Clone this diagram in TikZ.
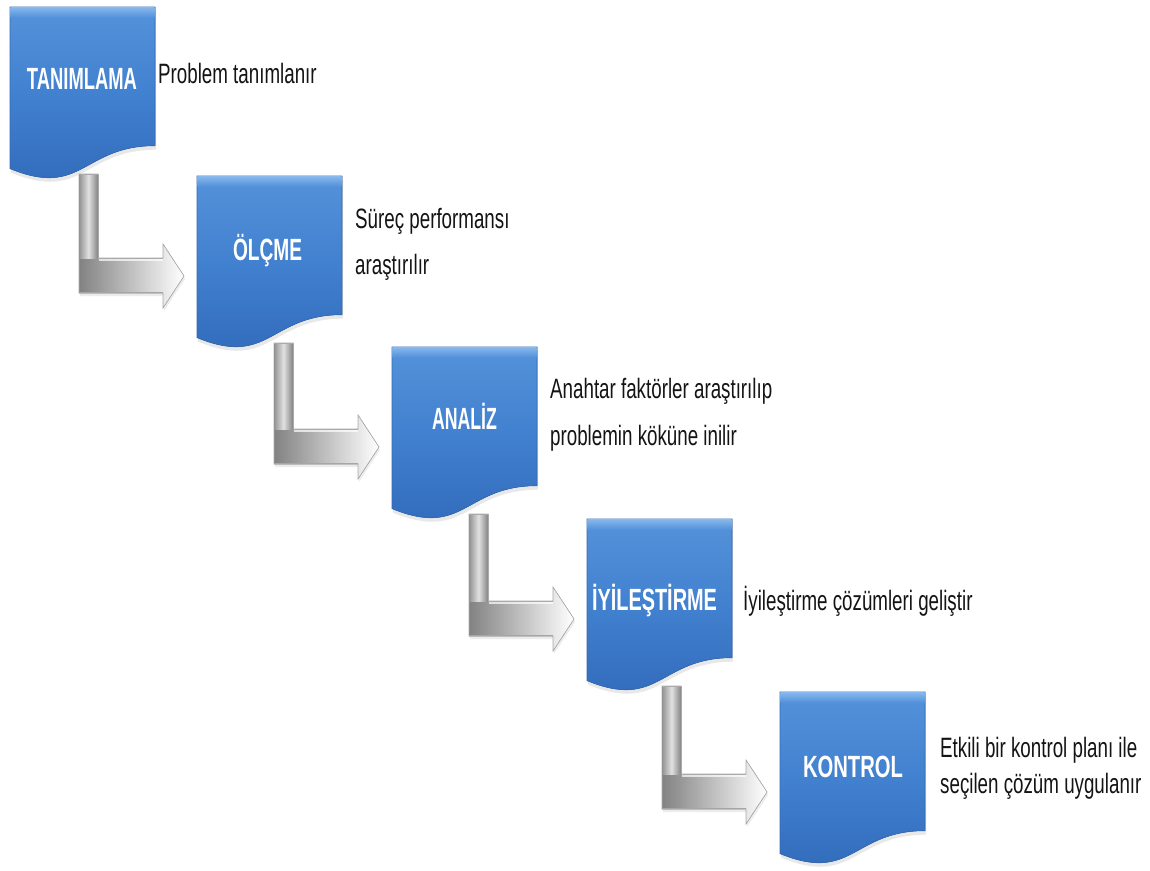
\documentclass[tikz,border=0pt]{standalone}
\usepackage{fontspec}
\usepackage{graphicx}
\setmainfont{Liberation Sans}
\newfontfamily\descfont[FakeStretch=0.67]{Liberation Sans}
\usetikzlibrary{calc,shadows}

% colours of the stage boxes
\definecolor{stageTop}{RGB}{84,146,218}
\definecolor{stageMid}{RGB}{64,127,206}
\definecolor{stageBot}{RGB}{48,104,184}
\definecolor{stageGlow}{RGB}{135,184,237}
\definecolor{stageEdge}{RGB}{52,106,180}
% colours of the bent arrows
\definecolor{arrowDark}{RGB}{130,130,130}
\definecolor{arrowEdge}{RGB}{170,170,170}
\definecolor{stemL}{RGB}{150,150,150}
\definecolor{stemM}{RGB}{225,225,225}
\definecolor{stemR}{RGB}{135,135,135}
\definecolor{descText}{RGB}{20,20,20}

\tikzset{
  stage/.style={minimum width=145pt, minimum height=173pt, inner sep=0pt,
                outer sep=0pt, anchor=north west},
  stagefill/.style={top color=stageTop, bottom color=stageBot, middle color=stageMid,
                    draw=stageEdge, line width=0.6pt,
                    drop shadow={shadow xshift=1pt, shadow yshift=-4pt, opacity=0.18}},
  stagelabel/.style={anchor=base, text=white, inner sep=0pt,
                     font=\fontsize{30.7}{34}\selectfont\bfseries},
  desc/.style={anchor=base west, inner sep=0pt, text=descText,
               font=\descfont\fontsize{28}{34}\selectfont},
  lbody/.style={left color=arrowDark, right color=white, draw=arrowEdge, line width=0.6pt,
                drop shadow={shadow xshift=1pt, shadow yshift=-3pt, opacity=0.15}},
  lstem/.style={left color=stemL, right color=stemR, middle color=stemM},
}

% document-shaped stage box drawn over a named node
\newcommand\stagebox[1]{%
  \fill[stagefill] (#1.north west) -- (#1.north east)
    -- ($(#1.north west)+(145,138.7)$)
    .. controls ($(#1.north west)+(72.5,138.7)$) and ($(#1.north west)+(72.5,191.5)$)
    .. ($(#1.north west)+(0,161.6)$) -- cycle;
  \shade[top color=stageGlow, bottom color=stageTop]
    ($(#1.north west)+(0.3,0.3)$) rectangle ($(#1.north east)+(-0.3,10)$);
}

% bent 3D arrow from the box #1 down and right into the box #2
\newcommand\bentarrow[2]{%
  \coordinate (N) at (#2.north west);
  \coordinate (T) at ($(#1.south)+(0,-6)$);
  \coordinate (s1) at ($(N)+(-118,0)$);
  \coordinate (s2) at ($(N)+(-99,0)$);
  \coordinate (c1) at ($(N)+(-99,82)$);
  \coordinate (h1) at ($(N)+(-34,82)$);
  \coordinate (h2) at ($(N)+(-34,68)$);
  \coordinate (tip) at ($(N)+(-13,100)$);
  \coordinate (h3) at ($(N)+(-34,132)$);
  \coordinate (h4) at ($(N)+(-34,117)$);
  \coordinate (b1) at ($(N)+(-118,117)$);
  \fill[lbody] (s1 |- T) -- (s2 |- T) -- (c1) -- (h1) -- (h2) -- (tip)
    -- (h3) -- (h4) -- (b1) -- cycle;
  \shade[lstem] ($(s1 |- T)+(0.4,0.4)$) rectangle ($(c1)+(-0.4,0)$);
  \draw[arrowEdge, line width=0.6pt] (s1 |- T) -- (s2 |- T) -- (c1) -- (h1);
  \draw[white, line width=1.2pt, opacity=0.7] ($(c1)+(1,2)$) -- ($(h1)+(0,2)$);
  \draw[gray!70, line width=0.8pt] ($(b1)+(1,-1)$) -- ($(h4)+(0,-1)$);
}

\begin{document}
\begin{tikzpicture}[x=1pt,y=-1pt]
  \fill[white] (0,0) rectangle (1150,870);
  \useasboundingbox (0,0) rectangle (1150,870);

  % placeholder nodes that fix where each stage sits
  \node[stage] (tanim) at (10,7) {};
  \node[stage] (olcme) at (197,176) {};
  \node[stage] (analiz) at (392,347) {};
  \node[stage] (iyiles) at (587,519) {};
  \node[stage] (kontrol) at (780,692) {};

  % arrows first, so the stems sit behind the boxes
  \bentarrow{tanim}{olcme}
  \bentarrow{olcme}{analiz}
  \bentarrow{analiz}{iyiles}
  \bentarrow{iyiles}{kontrol}

  \stagebox{tanim}
  \stagebox{olcme}
  \stagebox{analiz}
  \stagebox{iyiles}
  \stagebox{kontrol}

  % stage titles
  \node[stagelabel] (l1) at (82,89) {\resizebox{110pt}{\height}{TANIMLAMA}};
  \node[stagelabel] (l2) at (267.5,260) {\resizebox{69pt}{\height}{ÖLÇME}};
  \node[stagelabel] (l3) at (464.5,429) {\resizebox{65pt}{\height}{ANALİZ}};
  \node[stagelabel] (l4) at (654.5,610) {\resizebox{125pt}{\height}{İYİLEŞTİRME}};
  \node[stagelabel] (l5) at (853,777) {\resizebox{100pt}{\height}{KONTROL}};

  % descriptions
  \node[desc] (d1) at (158,83) {Problem tanımlanır};
  \node[desc] (d2a) at (355,228) {Süreç performansı};
  \node[desc] (d2b) at (355,274) {araştırılır};
  \node[desc] (d3a) at (550,398) {Anahtar faktörler araştırılıp};
  \node[desc] (d3b) at (550,445) {problemin köküne inilir};
  \node[desc] (d4) at (743,610) {İyileştirme çözümleri geliştir};
  \node[desc] (d5a) at (940,757) {Etkili bir kontrol planı ile};
  \node[desc] (d5b) at (940,793) {seçilen çözüm uygulanır};
\end{tikzpicture}
\end{document}
